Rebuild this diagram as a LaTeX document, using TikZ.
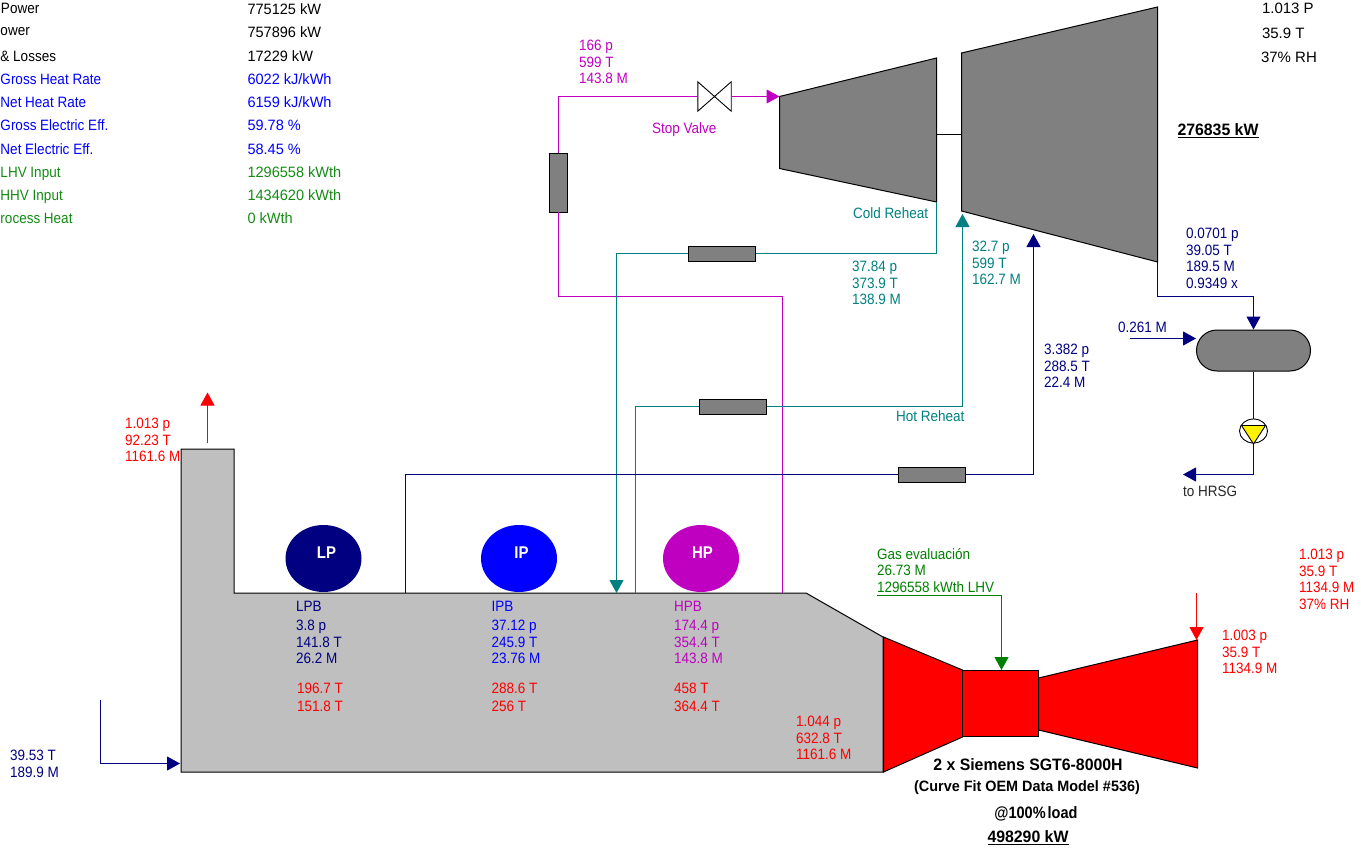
\documentclass[tikz,border=0pt]{standalone}
\usepackage{fontspec}
\setmainfont{Liberation Sans}
\newfontfamily\narrowf[FakeStretch=0.9]{Liberation Sans}
\newfontfamily\valf[FakeStretch=0.97]{Liberation Sans}
\newfontfamily\narrowb[FakeStretch=0.88]{Liberation Sans Bold}
\newfontfamily\titleb[FakeStretch=0.96]{Liberation Sans Bold}
\usetikzlibrary{arrows.meta,shapes.geometric,shapes.misc}
\definecolor{cmag}{HTML}{C000C0}
\definecolor{cteal}{HTML}{008080}
\definecolor{cnavy}{HTML}{000080}
\definecolor{cgreen}{HTML}{008000}
\definecolor{ctgreen}{HTML}{148A14}
\definecolor{cgray}{HTML}{808080}
\definecolor{chrsg}{HTML}{BFBFBF}
\tikzset{
  lbl/.style={anchor=north west,inner sep=0pt,outer sep=0pt,yshift=-1pt,align=left,font=\narrowf\fontsize{15}{16.7}\selectfont},
  tabl/.style={lbl,font=\narrowf\fontsize{15}{16.7}\selectfont},
  tabv/.style={lbl,font=\valf\fontsize{15}{16.7}\selectfont},
  tabw/.style={lbl,font=\rmfamily\fontsize{15}{16.7}\selectfont},
  ttl/.style={inner sep=0pt,outer sep=0pt,anchor=center,align=center},
  hx/.style={draw=black,fill=cgray,line width=1pt,rectangle,inner sep=0pt,minimum width=#1},
  hx/.default=67pt,
  drum/.style={ellipse,inner sep=0pt,minimum width=76pt,minimum height=67pt,text=white,text depth=11pt,font=\narrowb\fontsize{17}{17}\selectfont},
  tipped/.style={line width=1pt,-{Triangle[length=13pt,width=14pt]}},
  solidshape/.style={draw=black,line width=1pt}
}
\begin{document}
\begin{tikzpicture}[x=1pt,y=-1pt]
\useasboundingbox (0,0) rectangle (1361,851);
\clip (0,0) rectangle (1361,851);
% ---- anchors on the drawn shapes
\coordinate (hpin) at (779.5,96.5);
\coordinate (hpout) at (936.5,202);
\coordinate (hpshaft) at (936.5,134.5);
\coordinate (lpshaft) at (961.5,134.5);
\coordinate (lpout) at (1157.5,262);
\coordinate (hrin) at (962.5,214);
\coordinate (ipin) at (1033.5,234);
\coordinate (hpbot) at (782.5,593);
\coordinate (crbot) at (616.5,593);
\coordinate (hrbot) at (635.5,593);
\coordinate (lpbot) at (405.5,593);
\coordinate (stacktop) at (207.5,443);
\coordinate (stacktip) at (207.5,392.5);
\coordinate (inA) at (100.5,700);
\coordinate (inB) at (180,763.5);
\coordinate (fuelA) at (877,595.5);
\coordinate (fuelB) at (1001.5,670);
\coordinate (airA) at (1196.5,593);
\coordinate (airB) at (1196.5,640);
\coordinate (mkA) at (1130,338.5);
\coordinate (hrsgout) at (1183,474.5);
% ---- HRSG
\draw[solidshape,fill=chrsg] (181,449) -- (234,449) -- (234,593) -- (806,593) -- (883,637) -- (883,772) -- (181,772) -- cycle;
% ---- turbines
\draw[solidshape,fill=cgray] (hpin) -- (936.5,58) -- (hpout) -- (779.5,168.5) -- cycle;
\draw[solidshape,fill=cgray] (961.5,53) -- (1157.5,7) -- (lpout) -- (961.5,211) -- cycle;
\draw[line width=1pt,black] (hpshaft) -- (lpshaft);
% ---- gas turbine
\draw[solidshape,fill=red] (883.5,637) -- (962.5,670) -- (962.5,737) -- (883.5,772) -- cycle;
\draw[solidshape,fill=red] (1038.5,678) -- (1197.5,640) -- (1197.5,768) -- (1038.5,730) -- cycle;
\node[solidshape,fill=red,rectangle,inner sep=0pt,minimum width=76pt,minimum height=66pt] (comb) at (1000.5,703) {};
% ---- heat exchangers
\node[hx=18pt,minimum height=59pt] (hxA) at (558,182.5) {};
\node[hx=67pt,minimum height=15pt] (hxB) at (721.5,253.5) {};
\node[hx=67pt,minimum height=15pt] (hxC) at (732.5,406.5) {};
\node[hx=67pt,minimum height=15pt] (hxD) at (931.5,474.5) {};
% ---- valve
\node[inner sep=0pt,minimum width=33pt,minimum height=29pt] (valve) at (714.5,96.5) {};
\draw[line width=.9pt,black] (valve.south west) -- (valve.north east) -- (valve.south east) -- (valve.north west) -- cycle;
% ---- condenser and pump
\node[rounded rectangle,draw=black,fill=cgray,line width=1pt,minimum width=114pt,minimum height=41pt,inner sep=0pt] (cond) at (1253.5,350.5) {};
\node[ellipse,draw=black,fill=white,line width=.9pt,minimum width=28pt,minimum height=24pt,inner sep=0pt] (pump) at (1253.5,431) {};
\draw[line width=.9pt,black,fill=yellow] (1241.5,425.5) -- (1265.5,425.5) -- (1253.5,444) -- cycle;
\coordinate (pumpout) at (1253.5,444);
% ---- drums
\node[drum,fill=cnavy] (lp) at (323.5,558.5) {\hspace*{6pt}LP};
\node[drum,fill=blue] (ip) at (519,558.5) {\hspace*{5pt}IP};
\node[drum,fill=cmag] (hp) at (701,558.5) {\hspace*{3pt}HP};
% ---- connectors
\draw[tipped,cmag] (hpbot) |- (558.5,296.5) -- (558.5,212) (558.5,153) -- (558.5,96.5) -- (valve.west) (valve.east) -- (hpin);
\draw[tipped,cteal] (hpout) |- (hxB.east) (hxB.west) -| (crbot);
\draw[tipped,cteal] (hrbot) |- (hxC.west) (hxC.east) -| (hrin);
\draw[tipped,cnavy] (lpbot) |- (hxD.west) (hxD.east) -| (ipin);
\draw[tipped,cnavy] (lpout) |- (1253.5,296.5) -- (cond.north);
\draw[tipped,cnavy] (mkA) -- (cond.west |- mkA);
\draw[tipped,cnavy] (cond.south) -- (pump.north) (pumpout) |- (hrsgout);
\draw[tipped,cnavy] (inA) |- (inB);
\draw[tipped,red] (stacktop) -- (stacktip);
\draw[tipped,red] (airA) -- (airB);
\draw[tipped,cgreen] (fuelA) -| (fuelB);
% ---- summary table
\node[tabl] (t1) at (1,2.5) {Power};
\node[tabl] (t2) at (0.5,26) {ower};
\node[tabl] (t3) at (0.5,50) {\& Losses};
\node[tabl,blue] (t4) at (0.5,73) {Gross Heat Rate};
\node[tabl,blue] (t5) at (0.5,96) {Net Heat Rate};
\node[tabl,blue] (t6) at (0.5,119) {Gross Electric Eff.};
\node[tabl,blue] (t7) at (0.5,143) {Net Electric Eff.};
\node[tabl,ctgreen] (t8) at (0.5,166) {LHV Input};
\node[tabl,ctgreen] (t9) at (0.5,189) {HHV Input};
\node[tabl,ctgreen] (t10) at (0.5,212) {rocess Heat};
\node[tabv] (v1) at (247.5,2.5) {775125 kW};
\node[tabv] (v2) at (247.5,26) {757896 kW};
\node[tabv] (v3) at (247.5,50) {17229 kW};
\node[tabv,blue] (v4) at (247.5,73) {6022 kJ/kWh};
\node[tabv,blue] (v5) at (247.5,96) {6159 kJ/kWh};
\node[tabv,blue] (v6) at (247.5,119) {59.78 \%};
\node[tabv,blue] (v7) at (247.5,143) {58.45 \%};
\node[tabv,ctgreen] (v8) at (247.5,166) {1296558 kWth};
\node[tabv,ctgreen] (v9) at (247.5,189) {1434620 kWth};
\node[tabv,ctgreen] (v10) at (247.5,212) {0 kWth};
\node[tabw] (a1) at (1262,2.5) {1.013 P};
\node[tabw] (a2) at (1262,27) {35.9 T};
\node[tabw] (a3) at (1261,51) {37\% RH};
% ---- stream labels
\node[lbl,cmag] (l1) at (579,39) {166 p\\599 T\\143.8 M};
\node[lbl,cmag] (l2) at (652,122) {Stop Valve};
\node[lbl,cteal] (l3) at (853,207) {Cold Reheat};
\node[lbl,cteal] (l4) at (852,260) {37.84 p\\373.9 T\\138.9 M};
\node[lbl,cteal] (l5) at (972,240) {32.7 p\\599 T\\162.7 M};
\node[lbl,cteal] (l6) at (896,410) {Hot Reheat};
\node[lbl,cnavy] (l7) at (1044,343) {3.382 p\\288.5 T\\22.4 M};
\node[lbl,cnavy] (l8) at (1186,227) {0.0701 p\\39.05 T\\189.5 M\\0.9349 x};
\node[lbl,cnavy] (l9) at (1118,321) {0.261 M};
\node[lbl,black!85] (l10) at (1183,485) {to HRSG};
\node[lbl,red] (l11) at (125,417) {1.013 p\\92.23 T\\1161.6 M};
\node[lbl,cnavy] (l12) at (10,749) {39.53 T\\189.9 M};
\node[lbl,cnavy] (l13) at (296,600) {LPB};
\node[lbl,cnavy] (l14) at (296,619) {3.8 p\\141.8 T\\26.2 M};
\node[lbl,blue] (l15) at (491.5,600) {IPB};
\node[lbl,blue] (l16) at (491.5,619) {37.12 p\\245.9 T\\23.76 M};
\node[lbl,cmag] (l17) at (674,600) {HPB};
\node[lbl,cmag] (l18) at (674,619) {174.4 p\\354.4 T\\143.8 M};
\node[lbl,red] (l19) at (297,682) {196.7 T};
\node[lbl,red] (l20) at (297,700.5) {151.8 T};
\node[lbl,red] (l21) at (491.5,682) {288.6 T};
\node[lbl,red] (l22) at (491.5,700.5) {256 T};
\node[lbl,red] (l23) at (674,682) {458 T};
\node[lbl,red] (l24) at (674,700.5) {364.4 T};
\node[lbl,red] (l25) at (796,715) {1.044 p\\632.8 T\\1161.6 M};
\node[lbl,cgreen] (l26) at (877,547) {Gas evaluación\\26.73 M\\1296558 kWth LHV};
\node[lbl,red] (l27) at (1222,629) {1.003 p\\35.9 T\\1134.9 M};
\node[lbl,red] (l28) at (1299,548) {1.013 p\\35.9 T\\1134.9 M\\37\% RH};
% ---- titles
\node[ttl,font=\titleb\fontsize{16.5}{18}\selectfont] (g1) at (1028,765) {2 x Siemens SGT6-8000H};
\node[ttl,font=\titleb\fontsize{15}{16}\selectfont] (g2) at (1027,788) {(Curve Fit OEM Data Model \#536)};
\node[ttl,font=\narrowb\fontsize{16.5}{18}\selectfont] (g3) at (1036,814) {{\spaceskip=2pt @100\% load}};
\node[ttl,font=\titleb\fontsize{16.5}{18}\selectfont] (g4) at (1028,838) {\underline{498290 kW}};
\node[ttl,font=\titleb\fontsize{16.5}{18}\selectfont] (g5) at (1218,131) {\underline{276835 kW}};
\end{tikzpicture}
\end{document}
